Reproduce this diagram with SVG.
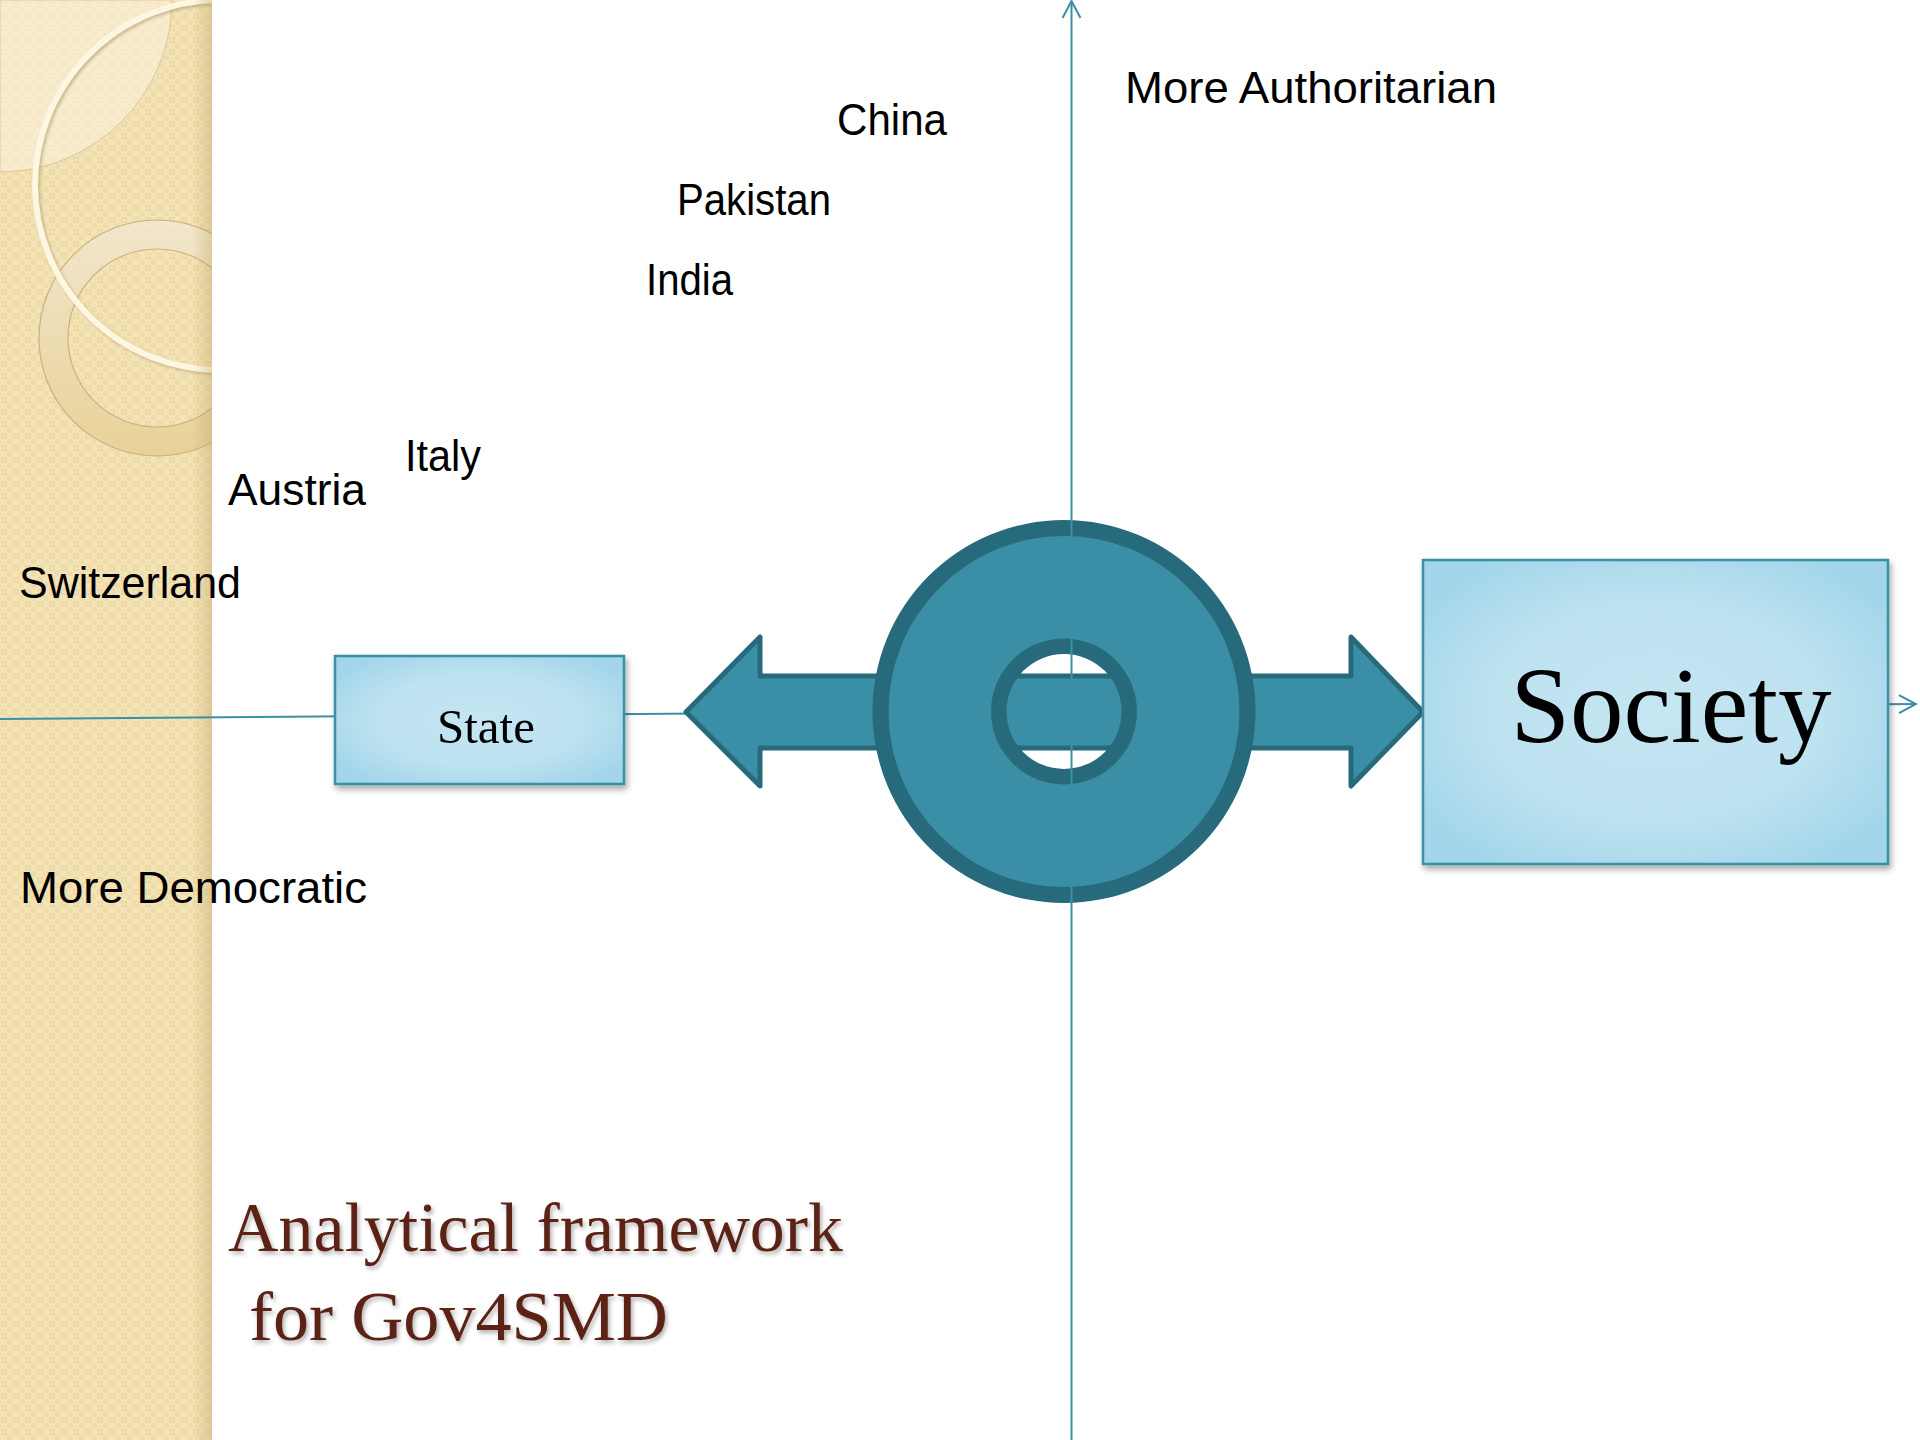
<svg xmlns="http://www.w3.org/2000/svg" width="1920" height="1440" viewBox="0 0 1920 1440">
  <style>
    .lbl { font-family: "Liberation Sans", Arial, sans-serif; font-size: 44px; fill: #000; }
    .box { stroke: #3a8fa6; stroke-width: 2.5; fill: url(#boxGrad); filter: url(#boxShadow); }
    .boxtxt { font-family: "Liberation Serif", "Times New Roman", serif; fill: #000; text-anchor: middle; }
    .axis { stroke: #3a8fa6; stroke-width: 2; fill: none; }
    .title { font-family: "Liberation Serif", "Times New Roman", serif; font-size: 70px; fill: #5c2418; filter: url(#txtShadow); }
  </style>
  <defs>
    <pattern id="checker" x="0" y="0" width="12" height="12" patternUnits="userSpaceOnUse">
      <rect width="12" height="12" fill="#f4e3b5"/>
      <rect x="1" y="1" width="6" height="6" fill="#ecd8a4"/>
      <rect x="2.5" y="2.5" width="3" height="3" fill="#f4e3b5"/>
      <rect x="7" y="7" width="5" height="5" fill="#efdcab"/>
    </pattern>
    <linearGradient id="edgeShade" x1="0" y1="0" x2="1" y2="0">
      <stop offset="0" stop-color="#b89e60" stop-opacity="0"/>
      <stop offset="1" stop-color="#b89e60" stop-opacity="0.35"/>
    </linearGradient>
    <linearGradient id="ringGrad" x1="0" y1="0" x2="0" y2="1">
      <stop offset="0" stop-color="#f2e8d4" stop-opacity="0.75"/>
      <stop offset="1" stop-color="#e6cf92" stop-opacity="0.85"/>
    </linearGradient>
    <radialGradient id="boxGrad" cx="0.5" cy="0.5" r="0.6">
      <stop offset="0" stop-color="#c5e5f2"/>
      <stop offset="0.6" stop-color="#bde2f0"/>
      <stop offset="1" stop-color="#a3d6ea"/>
    </radialGradient>
    <filter id="boxShadow" x="-10%" y="-10%" width="125%" height="130%">
      <feDropShadow dx="2" dy="4" stdDeviation="3" flood-color="#000" flood-opacity="0.35"/>
    </filter>
    <filter id="txtShadow" x="-5%" y="-20%" width="110%" height="150%">
      <feDropShadow dx="2" dy="3" stdDeviation="2" flood-color="#000" flood-opacity="0.3"/>
    </filter>
    <filter id="arcShadow" x="-10%" y="-10%" width="130%" height="130%">
      <feDropShadow dx="2" dy="2" stdDeviation="1.5" flood-color="#8a7440" flood-opacity="0.4"/>
    </filter>
    <marker id="openArrow" viewBox="0 0 20 20" refX="18" refY="10" markerWidth="20" markerHeight="20" markerUnits="userSpaceOnUse" orient="auto">
      <path d="M1,1 L18,10 L1,19" fill="none" stroke="#3a8fa6" stroke-width="2"/>
    </marker>
    <clipPath id="sideClip">
      <rect x="0" y="0" width="212" height="1440"/>
    </clipPath>
  </defs>

  <rect x="0" y="0" width="1920" height="1440" fill="#ffffff"/>

  <!-- Sidebar decoration -->
  <g id="sidebar" clip-path="url(#sideClip)">
    <rect x="0" y="0" width="212" height="1440" fill="url(#checker)"/>
    <path d="M0,0 L172,0 A172,172 0 0 1 0,172 Z" fill="#faf1de" fill-opacity="0.6" stroke="#d9c79c" stroke-width="1"/>
    <path d="M157,220 A118,118 0 1 1 157,456 A118,118 0 1 1 157,220 Z M157,249 A89,89 0 1 0 157,427 A89,89 0 1 0 157,249 Z" fill="url(#ringGrad)" fill-rule="evenodd" stroke="#c8b184" stroke-width="1.2"/>
    <circle cx="220" cy="185" r="185" fill="none" stroke="#fdf6e1" stroke-width="6" filter="url(#arcShadow)"/>
    <rect x="192" y="0" width="20" height="1440" fill="url(#edgeShade)"/>
  </g>

  <!-- Connectors (axes) -->
  <g id="connectors">
    <line class="axis" x1="0" y1="719" x2="1916" y2="704" marker-end="url(#openArrow)"/>
  </g>

  <!-- Double arrow -->
  <g id="double-arrow">
    <path d="M686,712 L760,637 L760,676 L1351,676 L1351,637 L1423,712 L1351,786 L1351,748 L760,748 L760,786 Z" fill="#3a8fa6" stroke="#276a7b" stroke-width="5" stroke-linejoin="round"/>
  </g>

  <!-- Ring -->
  <g id="ring">
    <path d="M1064,520 A191.5,191.5 0 1 1 1064,903 A191.5,191.5 0 1 1 1064,520 Z M1064,654 A57.5,57.5 0 1 0 1064,769 A57.5,57.5 0 1 0 1064,654 Z" fill="#276a7b" fill-rule="evenodd"/>
    <path d="M1064,536 A175.5,175.5 0 1 1 1064,887 A175.5,175.5 0 1 1 1064,536 Z M1064,638.5 A73,73 0 1 0 1064,784.5 A73,73 0 1 0 1064,638.5 Z" fill="#3a8fa6" fill-rule="evenodd"/>
  </g>

  <!-- Vertical axis on top -->
  <g id="vertical-axis">
    <line class="axis" x1="1071.5" y1="1440" x2="1071.5" y2="1" marker-end="url(#openArrow)"/>
  </g>

  <g id="state">
    <rect class="box" x="335" y="656" width="289" height="128"/>
    <text class="boxtxt" x="486" y="743" font-size="49">State</text>
  </g>

  <g id="society">
    <rect class="box" x="1423" y="560" width="465" height="304"/>
    <text class="boxtxt" x="1671" y="742" font-size="108" textLength="321" lengthAdjust="spacingAndGlyphs">Society</text>
  </g>

  <g id="labels">
    <text class="lbl" x="1125" y="103" textLength="372" lengthAdjust="spacingAndGlyphs">More Authoritarian</text>
    <text class="lbl" x="837" y="135" textLength="110" lengthAdjust="spacingAndGlyphs">China</text>
    <text class="lbl" x="677" y="215" textLength="154" lengthAdjust="spacingAndGlyphs">Pakistan</text>
    <text class="lbl" x="646" y="295" textLength="87" lengthAdjust="spacingAndGlyphs">India</text>
    <text class="lbl" x="405" y="471" textLength="76" lengthAdjust="spacingAndGlyphs">Italy</text>
    <text class="lbl" x="228" y="505" textLength="138" lengthAdjust="spacingAndGlyphs">Austria</text>
    <text class="lbl" x="19" y="598" textLength="222" lengthAdjust="spacingAndGlyphs">Switzerland</text>
    <text class="lbl" x="20" y="903" textLength="347" lengthAdjust="spacingAndGlyphs">More Democratic</text>
  </g>

  <g id="title">
    <text class="title" x="228" y="1251" textLength="615" lengthAdjust="spacingAndGlyphs">Analytical framework</text>
    <text class="title" x="249" y="1340" textLength="419" lengthAdjust="spacingAndGlyphs">for Gov4SMD</text>
  </g>
</svg>
